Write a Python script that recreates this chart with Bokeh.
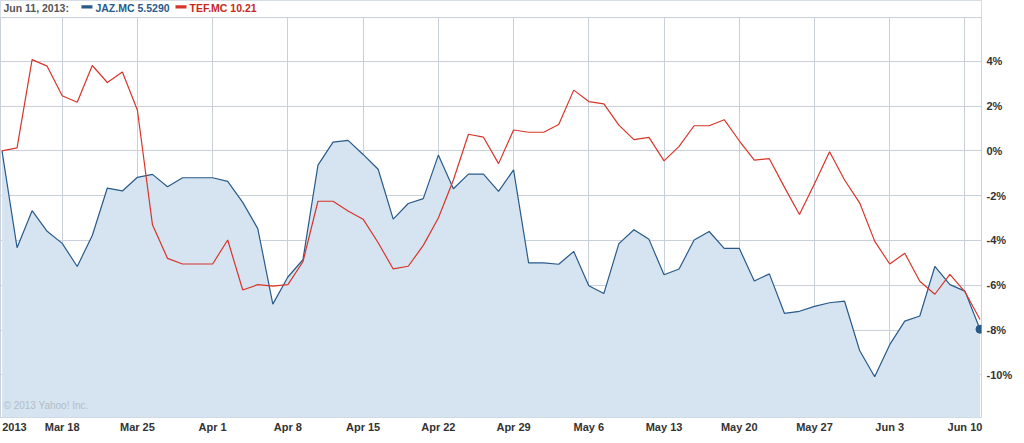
import pandas as pd
from bokeh.plotting import figure
from bokeh.models import (Range1d, FixedTicker, PrintfTickFormatter, Label,
                          BoxAnnotation, Span, ColumnDataSource)
from bokeh.embed import file_html
from bokeh.resources import INLINE

# ---------------- data ----------------
dates = pd.bdate_range("2013-03-12", "2013-06-11")  # trading days on the axis

jaz = [0.00, -4.32, -2.67, -3.59, -4.13, -5.16, -3.78, -1.66, -1.79, -1.18,
       -1.05, -1.60, -1.20, -1.20, -1.20, -1.36, -2.30, -3.47, -6.84, -5.63,
       -4.86, -0.64, 0.39, 0.47, -0.16, -0.82, -3.05, -2.35, -2.13, -0.19,
       -1.69, -1.04, -1.04, -1.81, -0.85, -5.00, -5.00, -5.06, -4.49, -6.02,
       -6.37, -4.14, -3.52, -3.95, -5.53, -5.27, -3.98, -3.60, -4.35, -4.35,
       -5.81, -5.49, -7.25, -7.16, -6.94, -6.78, -6.71, -8.91, -10.08, -8.65,
       -7.60, -7.37, -5.16, -5.97, -6.26, -7.96]

tef = [0.00, 0.13, 4.07, 3.78, 2.46, 2.17, 3.81, 3.05, 3.52, 1.81,
       -3.30, -4.80, -5.05, -5.05, -5.05, -3.98, -6.21, -5.97, -6.04, -5.97,
       -4.95, -2.25, -2.25, -2.68, -3.05, -4.10, -5.27, -5.15, -4.22, -3.00,
       -1.30, 0.74, 0.61, -0.57, 0.93, 0.83, 0.83, 1.18, 2.71, 2.20,
       2.10, 1.15, 0.50, 0.60, -0.45, 0.20, 1.12, 1.12, 1.39, 0.45,
       -0.41, -0.35, -1.62, -2.84, -1.47, -0.04, -1.30, -2.32, -4.03, -5.05,
       -4.57, -5.82, -6.40, -5.51, -6.29, -7.53]

tick_dates = ["2013-03-18", "2013-03-25", "2013-04-01", "2013-04-08",
              "2013-04-15", "2013-04-22", "2013-04-29", "2013-05-06",
              "2013-05-13", "2013-05-20", "2013-05-27", "2013-06-03",
              "2013-06-10"]
tick_labels = ["Mar 18", "Mar 25", "Apr 1", "Apr 8", "Apr 15", "Apr 22",
               "Apr 29", "May 6", "May 13", "May 20", "May 27", "Jun 3",
               "Jun 10"]
year_label = "2013"
y_ticks = [-10, -8, -6, -4, -2, 0, 2, 4]

legend_date = "Jun 11, 2013:"
legend_jaz = "JAZ.MC 5.5290"
legend_tef = "TEF.MC 10.21"

# ---------------- styles ----------------
BLUE = "#285a8a"
RED = "#d8352a"
FILL = "#d5e4f0"
GRID = "#c9d0da"
FONT = "Liberation Sans"

x = list(range(len(dates)))
src = ColumnDataSource(dict(x=x, jaz=jaz, tef=tef))

p = figure(width=1016, height=435, output_backend="svg", toolbar_location=None,
           x_range=Range1d(-0.1, 65.1), y_range=Range1d(-11.9, 6.71),
           y_axis_location="right",
           min_border_left=0, min_border_top=0, min_border_bottom=18,
           min_border_right=35)
p.background_fill_color = "white"
p.border_fill_color = "white"
p.outline_line_color = GRID

# grids
tick_pos = [dates.get_loc(pd.Timestamp(d)) for d in tick_dates]
p.xgrid[0].ticker = FixedTicker(ticks=tick_pos)
p.ygrid[0].ticker = FixedTicker(ticks=y_ticks)
p.xgrid.grid_line_color = GRID
p.ygrid.grid_line_color = GRID

# x axis
year_pos = 0.83
p.xaxis.ticker = FixedTicker(ticks=[year_pos] + tick_pos)
overrides = {year_pos: year_label}
overrides.update({pos: lab for pos, lab in zip(tick_pos, tick_labels)})
p.xaxis.major_label_overrides = overrides
p.xaxis.axis_line_color = None
p.xaxis.major_tick_line_color = None
p.xaxis.minor_tick_line_color = None
p.xaxis.major_tick_out = 0
p.xaxis.major_label_standoff = 3
p.xaxis.major_label_text_font = FONT
p.xaxis.major_label_text_font_style = "bold"
p.xaxis.major_label_text_font_size = "11px"
p.xaxis.major_label_text_color = "#333333"

# y axis (right)
p.yaxis.ticker = FixedTicker(ticks=y_ticks)
p.yaxis.formatter = PrintfTickFormatter(format="%d%%")
p.yaxis.axis_line_color = None
p.yaxis.major_tick_line_color = None
p.yaxis.minor_tick_line_color = None
p.yaxis.major_tick_out = 0
p.yaxis.major_label_standoff = 5
p.yaxis.major_label_text_font = FONT
p.yaxis.major_label_text_font_style = "bold"
p.yaxis.major_label_text_font_size = "11px"
p.yaxis.major_label_text_color = "#333333"

# series
p.varea(x="x", y1=-13, y2="jaz", source=src, fill_color=FILL)
p.line("x", "jaz", source=src, line_color=BLUE, line_width=1.2)
p.line("x", "tef", source=src, line_color=RED, line_width=1.2)
p.scatter(x=[x[-1]], y=[jaz[-1]], size=8, color=BLUE)

# copyright
p.add_layout(Label(x=0.1, y=-11.62, text="\u00a9 2013 Yahoo! Inc.",
                   text_font=FONT, text_font_size="10px",
                   text_color="#b3bcc8", text_baseline="bottom"))

# legend strip at the top
p.add_layout(BoxAnnotation(bottom=5.95, fill_color="white", fill_alpha=1.0,
                           line_color=None))
p.add_layout(Span(location=5.95, dimension="width", line_color=GRID,
                  line_width=1))
p.add_layout(BoxAnnotation(left=5.28, right=6.01, bottom=6.35, top=6.50,
                           fill_color=BLUE, fill_alpha=1.0, line_color=None))
p.add_layout(BoxAnnotation(left=11.53, right=12.26, bottom=6.35, top=6.50,
                           fill_color=RED, fill_alpha=1.0, line_color=None))
for xx, txt, col in [(0.1, legend_date, "#555555"),
                     (6.21, legend_jaz, BLUE),
                     (12.46, legend_tef, "#c8281c")]:
    p.add_layout(Label(x=xx, y=6.38, text=txt, text_font=FONT,
                       text_font_style="bold", text_font_size="10.5px",
                       text_color=col, text_baseline="middle"))

open("out.html", "w").write(file_html(p, INLINE))
